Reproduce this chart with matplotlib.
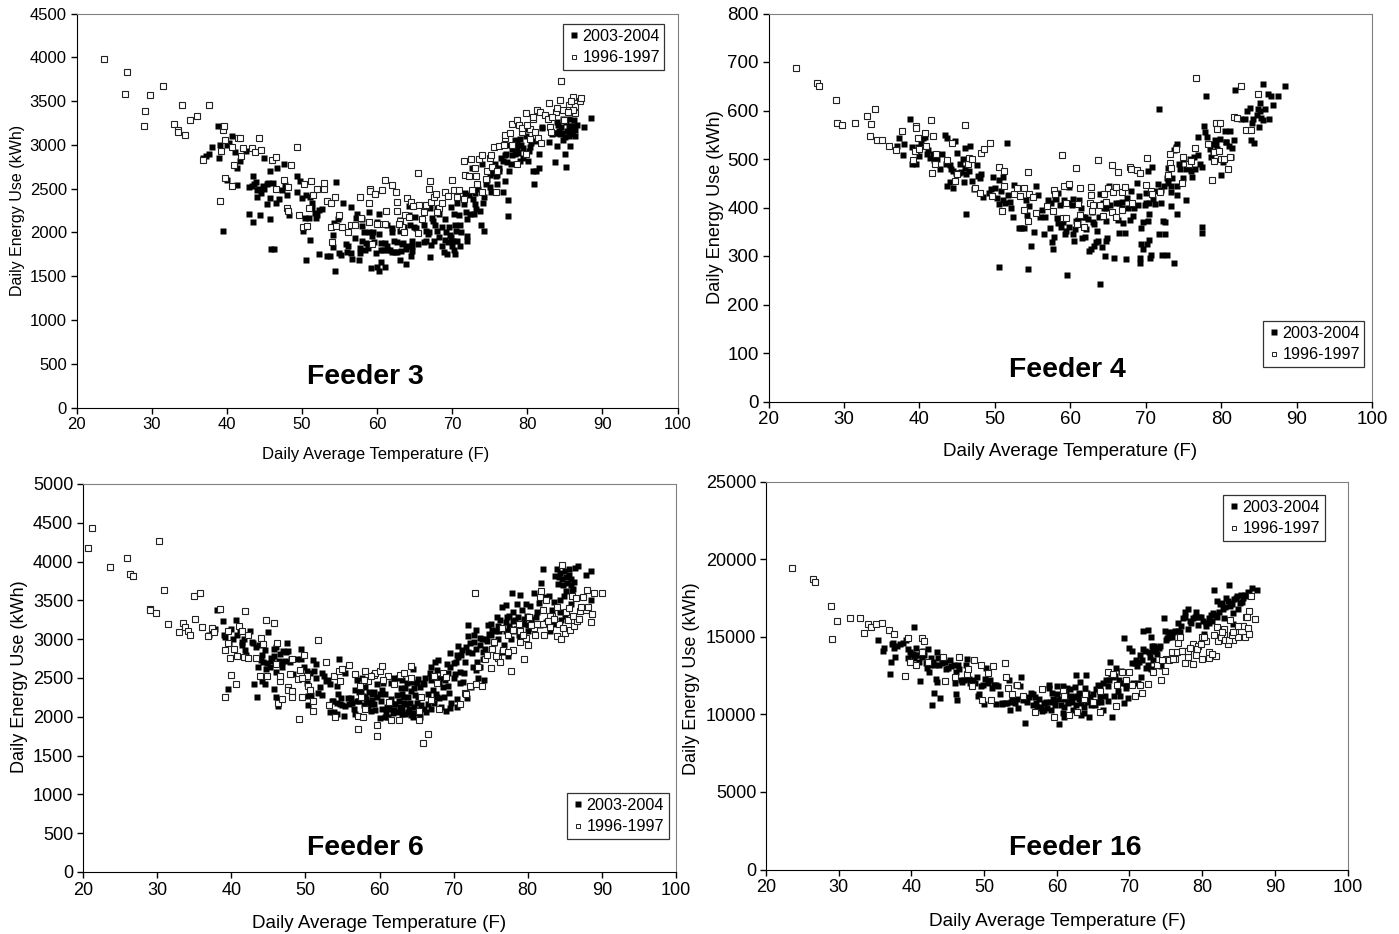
import matplotlib
matplotlib.use("Agg")
import matplotlib.pyplot as plt

plt.rcParams['font.family'] = ['Liberation Sans', 'DejaVu Sans']

W = 1399
H = 934

LABEL_NEW = "2003-2004"
LABEL_OLD = "1996-1997"
X_LABEL = "Daily Average Temperature (F)"
Y_LABEL = "Daily Energy Use (kWh)"
X_TICKS = [20, 30, 40, 50, 60, 70, 80, 90, 100]

feeder3_new = [(36.9,2850),(37.2,2870),(37.7,2900),(38,2970),(38.9,3220),(39,2850),(39.1,3000),(39.5,2020),(40,3000),(40,2600),(40.3,3020),(40.7,3100),(41.1,2920),(41.4,2740),(41.4,2540),(41.8,2820),(42.5,2930),(42.9,2520),(43,2210),(43.3,2530),(43.5,2120),(43.5,2640),(43.6,2550),(44,2400),(44,2480),(44.4,2200),(44.6,2450),(44.9,2850),(44.8,2530),(45.4,2320),(45.5,2560),(45.7,2700),(45.7,2390),(45.8,2150),(45.9,1810),(46.3,1815),(46.1,2560),(46.6,2330),(46.7,2740),(47,2380),(47.3,2480),(47.6,2780),(47.7,2540),(48,2430),(48.3,2200),(49.3,2640),(49.4,2460),(49.7,2590),(50,2390),(50.2,2020),(50.4,2170),(50.6,2430),(50.5,1680),(50.9,2160),(51.1,1910),(51.1,2400),(51.4,2340),(51.4,2280),(51.8,2220),(51.9,2170),(52.3,2260),(52.3,1750),(52.7,2270),(53.3,1730),(53.7,1730),(54.1,1830),(54.2,1970),(54.3,2110),(54.4,1560),(54.5,2580),(54.8,2150),(54.9,1770),(55.2,1740),(55.5,2340),(55.9,1870),(56.2,1850),(56.6,1760),(56.6,2290),(56.7,1700),(57.1,1940),(57.4,2210),(57.6,1690),(57.8,1770),(57.8,1820),(58,2150),(58,2070),(58,1900),(58.3,2000),(58.6,1880),(58.9,2000),(58.8,1820),(59,2230),(59.2,1590),(59.4,1960),(59.5,2000),(59.6,1890),(60,1600),(60,2120),(60.2,1560),(60.3,2210),(60.3,1980),(60.5,1880),(60.5,1660),(60.5,1800),(61,1610),(61,1880),(61.3,1850),(61.3,2080),(61.7,1800),(62,1780),(62,2050),(62,2000),(62.3,1900),(62.4,1780),(62.7,1890),(63,2140),(63,1680),(63,2020),(63.3,1870),(63.5,1880),(63.6,2060),(63.8,1640),(64,1840),(64.2,2200),(64.3,2300),(64.5,1730),(64.7,1790),(64.7,1850),(64.9,2060),(65,2180),(65.5,1870),(66.2,1890),(66.2,2090),(66.5,2020),(66.8,1980),(67,1720),(67,2280),(67.2,1860),(67.3,2160),(67.6,1900),(67.7,2090),(68,2020),(68,2280),(68.3,2210),(68.7,1850),(68.9,1780),(69,2150),(69.2,2000),(69.3,1750),(69.5,1890),(69.6,2060),(69.8,2290),(69.8,1950),(70,1850),(70.2,1800),(70.3,2210),(70.4,1750),(70.4,2090),(70.6,1900),(70.7,2340),(71,2090),(71,1850),(71.2,2010),(71.6,2320),(71.7,2450),(72,1960),(72,2150),(72,1900),(72.4,2210),(72.7,2730),(72.9,2210),(73,2450),(73,2320),(73.7,2250),(73.9,2090),(74,2780),(74.1,2340),(74.2,2400),(74.2,2020),(74.7,2600),(75.2,2460),(75.3,2680),(75.7,2780),(76,2550),(76,2660),(76.3,2700),(76.8,2460),(77,2590),(77.1,2880),(77.3,2800),(77.4,2190),(77.5,2370),(77.6,2700),(77.9,2780),(78,2880),(78.4,3050),(78.6,2960),(79,2820),(79.2,3000),(79.4,2850),(79.6,3180),(80.1,2820),(80.2,2930),(80.5,3020),(80.7,2700),(80.9,2550),(81.1,2700),(81.5,2890),(81.6,2730),(82,3200),(82.9,3030),(83.7,2800),(83.9,3260),(84,2990),(84.3,3120),(84.5,3200),(84.8,3290),(85,2890),(85.1,2750),(85,3090),(85.5,3200),(85.7,2990),(86,3120),(86.2,3280),(86.3,3100),(86.6,3230),(87.5,3200),(88.5,3310),(84,3130),(84.7,3060),(85.3,3160),(85.8,3220),(78.8,2910),(78,2950),(77.5,3000),(79,3070),(78.4,2900),(76.5,2850),(75,2650),(74.8,2700),(75.5,2720),(83.5,3130),(84.1,3230),
               (43.9,2570),(44.3,2500),(45,2490),(45.3,2550),(47.9,2520),(52,2200),(54.9,2180),(56,1780),(57.2,2170),(58.4,1800),(59.9,1770),(60.8,1800),(61.5,1800),(62.6,1780),(63.2,1790),(63.8,1810),(64.4,2080),(64.6,1900),(65.2,2050),(66.5,1900),(66.9,2010),(67.5,2130),(68.2,1950),(68.6,2060),(69.1,1910),(69.7,1970),(70.1,1900),(70.5,2020),(70.9,2200),(71.8,2230),(72.3,2430),(72.8,2380),(73.2,2270),(73.4,2500),(74.5,2550),(75,2520),(75.8,2640),(76.2,2730),(76.8,2820),(77.2,2900),(78.2,3000),(78.7,3010),(79.5,2960),(79.8,3100),(80.3,2980),(81,3040),(81.9,3190),(83.3,3120),(84.2,3160),(84.6,3130),(85.2,3260),(85.5,3100),(85.9,3150),(86.4,3170),(85.6,3300),(86,3220)]
feeder3_old = [(23.6,3980),(26.4,3585),(26.7,3830),(29,3215),(29.1,3385),(29.8,3570),(31.5,3670),(33,3240),(33.5,3170),(33.5,3145),(34.1,3450),(34.4,3110),(35.1,3285),(36,3330),(36.9,2830),(37.6,3455),(39.1,2360),(39.2,2925),(39.5,3170),(39.6,3215),(39.8,3060),(39.8,2620),(40.7,2530),(40.7,2980),(40.9,2770),(41.5,3080),(41.8,3080),(41.9,2870),(42.2,2960),(43.4,2960),(43.7,2920),(44.3,3075),(44.6,2940),(46,2830),(46.5,2860),(46.5,2500),(47.6,2600),(48,2280),(48.1,2250),(48.2,2520),(48.6,2770),(49.4,2975),(49.6,2200),(50.2,2060),(50.3,2550),(50.7,2070),(51,2280),(51.2,2590),(51.5,2430),(52,2500),(52.9,2490),(53,2560),(53.3,2360),(53.9,2060),(53.9,2340),(54,1890),(54.4,2400),(54.6,2070),(55,2200),(55.4,2060),(56.1,2000),(56.6,2090),(57.1,2090),(57.8,2400),(57.9,2160),(58.9,2120),(59,2340),(59.1,2500),(59.1,2470),(59.4,1870),(59.7,2440),(60.2,2100),(60.7,2480),(61,2600),(61.2,2240),(62,2540),(62.5,2460),(62.6,2350),(62.7,2240),(63,2130),(63.3,2060),(63.6,2010),(64,2390),(64.5,2350),(65.4,2680),(65.5,1990),(65.6,2310),(66,2150),(66.5,2310),(66.9,2490),(67,2590),(67.2,2350),(67.6,2400),(67.9,2440),(68.2,2280),(68.7,2340),(69,2460),(69.5,2410),(70,2600),(70.2,2480),(70.6,2400),(70.9,2480),(71.6,2380),(71.6,2810),(71.7,2660),(72.2,2640),(72.5,2840),(73,2740),(73.2,2640),(73.3,2550),(73.6,2840),(74,2460),(74,2880),(74.7,2700),(75,2850),(75.2,2880),(75.6,2970),(75.8,2460),(76.2,2990),(76.9,3000),(77.1,3080),(77,3110),(77.7,3130),(78,3240),(78.6,3280),(78.7,2780),(79.3,3150),(79.8,2900),(79.9,3360),(80.3,3070),(80.4,3180),(80.7,3300),(81,3150),(81.3,3400),(81.4,3080),(81.7,3370),(81.8,3020),(82.3,3340),(82.9,3480),(83,3200),(83.1,3150),(83.8,3370),(84.4,3510),(84.5,3730),(84.8,3400),(85.5,3450),(85.5,3400),(86.1,3550),(86.3,3440),(86.4,3360),(87,3500),(87.2,3540),(86.1,3400),
               (62.9,2100),(63.7,2200),(64.3,2180),(64.8,2300),(60,2100),(61,2100),(66.3,2230),(68,2230),(72.7,2480),(74.5,2610),(75.3,2750),(76,2700),(78,3000),(78.9,3230),(79.3,3190),(80,3230),(80.8,3320),(82.8,3300),(84,3420),(84.9,3280),(85.8,3500),(85.4,3370),(83.3,3320)]

feeder4_new = [(37,527),(37.3,543),(37.8,508),(38,530),(38.8,582),(39,524),(39,490),(39.5,517),(39.6,490),(40,507),(40.2,532),(40.5,543),(40.7,545),(41.2,518),(41.4,503),(41.8,510),(42.4,500),(42.8,480),(43,510),(43.4,549),(43.7,445),(43.7,543),(44,487),(44,453),(44.5,440),(44.7,537),(44.5,475),(45,513),(45.2,472),(45.5,474),(45.8,500),(45.9,453),(46,522),(46.2,387),(46,482),(46.6,475),(46.7,527),(47,455),(47.3,438),(47.6,488),(47.8,465),(48.2,470),(48.5,422),(49.5,438),(49.7,462),(50,440),(50.5,407),(50.6,457),(50.6,277),(50.8,435),(51.1,415),(51.1,462),(51.6,533),(51.7,425),(52,412),(52.2,398),(52.4,381),(52.6,447),(53.2,357),(53.9,357),(54.3,385),(54.4,273),(54.5,404),(54.8,320),(55.2,350),(55.5,444),(55.7,425),(56.2,395),(56.5,345),(56.7,380),(57,415),(57.3,357),(57.6,328),(57.7,315),(57.8,340),(58.1,418),(58.2,378),(58.4,430),(58.6,405),(58.8,360),(59.2,415),(59.3,345),(59.5,352),(59.6,260),(59.8,443),(59.9,360),(60.3,418),(60.4,345),(60.5,330),(60.6,355),(60.8,372),(61.2,415),(61.4,400),(61.5,337),(61.9,380),(62,340),(62.1,355),(62.5,310),(62.8,315),(62.9,390),(63,370),(63.2,320),(63.5,352),(63.7,330),(63.8,380),(63.9,242),(64,427),(64.2,318),(64.5,400),(64.6,300),(64.7,373),(64.8,330),(64.9,338),(65.1,445),(65.3,405),(65.8,295),(66.3,375),(66.4,348),(66.5,410),(66.8,400),(67,368),(67.2,348),(67.4,293),(67.5,420),(67.9,375),(68,434),(68.3,382),(68.5,400),(68.9,450),(69.1,423),(69.3,285),(69.3,295),(69.4,325),(69.4,358),(69.6,370),(69.7,315),(70,430),(70,410),(70.2,325),(70.3,372),(70.3,475),(70.4,333),(70.5,387),(70.6,295),(70.7,303),(70.8,484),(71.2,407),(71.6,448),(71.8,345),(71.8,603),(72,410),(72,436),(72.2,302),(72.3,373),(72.5,345),(72.6,370),(72.8,303),(73,450),(73,482),(73.3,403),(73.3,432),(73.5,460),(73.8,285),(73.8,518),(74,525),(74.1,530),(74.1,445),(74.1,387),(74.1,425),(74.4,490),(74.9,500),(75,460),(75.4,415),(75.7,485),(76,475),(76.2,462),(76.4,505),(76.9,508),(77,545),(77.4,348),(77.5,360),(77.5,484),(77.7,568),(77.9,555),(78,630),(78.1,545),(78.7,505),(79,530),(79.3,530),(79.5,520),(79.8,542),(80,467),(80.3,493),(80.5,557),(80.7,535),(81,527),(81.2,558),(81.3,505),(81.5,522),(81.7,540),(81.9,642),(82.6,583),(83.2,583),(83.4,600),(83.8,605),(84,540),(84.2,582),(84.4,534),(84.9,604),(85,565),(85.2,615),(85.3,585),(85.6,655),(85.8,603),(86.2,633),(86.3,583),(86.6,630),(86.9,612),(87.6,630),(88.5,650),
               (39.8,525),(41,510),(42,497),(43.5,490),(44.2,480),(44.9,472),(45.4,490),(46.2,470),(48,460),(49.2,430),(50.3,420),(51.4,410),(53.5,357),(54.1,415),(56,380),(57.4,410),(58,420),(58.4,368),(59,370),(59.7,410),(60.2,405),(61,375),(61.7,380),(62.3,376),(63.2,365),(63.4,328),(64.3,410),(64.8,400),(66.1,410),(66.9,412),(67.7,400),(68.2,405),(69,405),(69.9,405),(70.4,410),(71,418),(71.4,435),(72.4,445),(72.8,460),(73.4,445),(74.6,480),(75.3,480),(75.9,500),(76.5,480),(77.2,490),(78.5,520),(78.9,515),(79.2,540),(80.6,535),(84.1,575),(84.7,590),(85.1,600),(85.5,580)]
feeder4_old = [(23.6,687),(26.4,657),(26.7,650),(29,621),(29.1,574),(29.8,570),(31.5,574),(33,589),(33.5,548),(33.6,572),(34.1,604),(34.4,540),(35,540),(36,526),(36.9,518),(37.7,557),(39.2,497),(39.4,517),(39.5,568),(39.6,563),(39.8,543),(40,520),(40.7,553),(40.9,527),(41.5,580),(41.7,472),(41.8,548),(42.1,490),(42.2,510),(43.6,497),(44.3,533),(44.7,455),(46,570),(46.5,490),(46.6,502),(47.4,440),(48,430),(48.2,513),(48.6,520),(49.4,534),(49.6,423),(50.6,484),(50.9,393),(51.2,475),(51.2,445),(52.6,427),(52.9,440),(53.3,423),(53.9,395),(53.9,441),(54.4,373),(54.4,473),(54.5,427),(55.1,422),(55.5,388),(56.9,403),(57.7,393),(57.9,437),(58,428),(58.9,508),(59,378),(59.2,445),(59.4,410),(59.5,378),(59.8,448),(60.8,482),(60.9,365),(61,408),(61.3,385),(61.3,441),(61.8,360),(62.6,410),(62.7,442),(62.8,426),(62.9,392),(63.7,498),(64,405),(64.3,382),(64.5,428),(64.8,412),(65,440),(65.5,390),(65.6,488),(65.7,432),(66,442),(66.3,473),(66.9,395),(66.9,432),(67.2,442),(67.9,483),(68.1,480),(68.2,410),(68.9,478),(69.2,471),(70,447),(70.2,502),(70.7,435),(70.9,428),(71.9,432),(73,467),(73.2,492),(73.2,510),(73.4,482),(74,520),(74.8,450),(75,505),(75.8,490),(76.5,523),(76.7,668),(78.2,530),(78.8,457),(79,515),(79.3,574),(79.4,562),(79.7,517),(79.9,575),(80,500),(80.4,500),(80.9,479),(81.2,505),(81.7,587),(82.1,585),(82.6,650),(83.3,560),(84,560),(84.9,633),
               (63,405),(66,380),(47,500),(45,470),(76,495),(79,495)]

feeder6_new = [(37,3060),(37.4,3090),(37.8,3130),(38.1,3380),(38.9,3230),(39,3050),(39.1,3030),(39.5,2360),(39.7,2950),(40,3130),(40.3,3000),(40.7,3250),(41.2,3100),(41.4,2970),(41.5,2920),(41.8,2860),(42,2800),(42.5,3100),(43,2950),(43.1,2420),(43.5,2260),(43.6,2640),(43.8,2920),(44,2730),(44.1,2460),(44.5,2420),(44.6,2860),(44.8,2690),(45,3090),(45.2,2640),(45.5,2720),(45.8,2780),(45.8,2360),(46,2580),(46,2250),(46.1,2900),(46.3,2140),(46.6,2810),(46.8,2640),(47,2850),(47.3,2720),(47.5,2950),(47.7,2850),(47.9,2700),(48.3,2550),(49.4,2750),(49.4,2870),(49.8,2640),(50.2,2590),(50.2,2430),(50.3,2150),(50.4,2270),(50.8,2280),(51,2730),(51.2,2590),(51.5,2500),(51.7,2310),(52,2380),(52.2,2570),(52.3,2280),(52.8,2460),(53.3,2060),(53.7,2200),(53.9,2060),(54.2,2040),(54.3,2400),(54.4,2290),(54.5,2740),(54.7,2160),(55,2150),(55.2,2010),(55.4,2570),(55.7,2240),(56.3,2180),(56.5,2100),(56.7,2030),(56.9,2480),(57.3,2320),(57.6,2500),(57.9,2150),(58,2390),(58.2,2230),(58.4,2100),(58.6,2320),(59,2290),(59.3,2170),(59.4,2090),(59.6,2420),(60,2290),(60.1,1990),(60.3,2340),(60.4,2100),(60.5,2440),(60.7,2000),(61,2130),(61.2,2000),(61.6,2440),(61.8,2170),(62,2500),(62,2090),(62.3,2280),(62.5,2500),(62.8,2130),(63,2300),(63,2040),(63.3,2180),(63.5,2370),(63.6,2160),(63.9,2250),(64,2100),(64.2,2330),(64.3,2050),(64.5,2610),(64.5,2000),(64.8,2280),(65,2440),(65,2180),(65.3,2090),(65.5,2380),(65.6,2150),(66,2100),(66.2,2500),(66.5,2170),(66.8,2560),(67,2100),(67,2640),(67.2,2340),(67.5,2700),(67.7,2250),(67.9,2730),(68,2240),(68.5,2380),(68.9,2470),(69,2070),(69.1,2680),(69.3,2570),(69.5,2820),(69.5,2110),(70,2500),(70,2690),(70.4,2230),(70.5,2800),(70.5,2130),(70.6,2910),(70.8,2580),(71.2,2450),(71.5,2700),(71.7,2900),(71.8,2240),(72,3180),(72,3040),(72.3,2390),(72.6,2640),(72.8,3050),(73,3120),(73.1,2700),(73.5,2640),(73.6,2930),(73.8,3000),(74,2830),(74.1,2480),(74.4,3000),(74.6,3180),(75,3190),(75.5,2950),(75.9,3280),(76.1,3100),(76.5,2830),(76.5,3410),(77,3220),(77.1,3440),(77.4,2780),(77.6,3130),(77.9,3590),(78,3350),(78.5,3460),(78.7,3290),(79,3570),(79,3000),(79.3,3200),(79.7,3450),(80,3100),(80.3,3430),(80.7,3180),(80.8,3590),(81.3,3350),(81.5,3470),(81.8,3720),(82,3900),(82,3380),(82.9,3560),(83,3100),(83.6,3480),(83.7,3820),(84,3900),(84.1,3710),(84.4,3350),(84.6,3780),(84.9,3560),(85,3880),(85.3,3720),(85.5,3830),(85.8,3700),(85.8,3450),(86,3620),(86.3,3740),(86.4,3920),(86.8,3940),(87.8,3830),(88.6,3880),(88.6,3510),(85,3300),(84.5,3250),(83.5,3200),(82.5,3220),(81,3200),(80,3180),(79,3130),(78,3230),(77.5,3300),(77,3100),(76,3170),(75,3050),(74.5,2980),(73,2880),(72.5,2820),(71,2800),(70.3,2700),(69.5,2640),(68,2450),(67,2520),(66,2420),(63,2480),(59,2220),
               (40.8,3050),(41.7,3000),(42.8,2960),(43.3,2900),(44.2,2800),(44.3,2700),(44.7,2620),(45.3,2760),(45.7,2880),(46.4,2720),(46.9,2700),(47.4,2830),(48,2740),(48.8,2750),(50.6,2560),(51.4,2680),(52.5,2530),(53,2480),(53.3,2420),(53.6,2210),(54.2,2180),(54.8,2240),(55.3,2140),(55.9,2170),(56.1,2240),(56.7,2350),(57,2200),(57.3,2200),(57.5,2330),(57.8,2270),(58.1,2260),(58.3,2190),(58.7,2170),(58.9,2080),(59.2,2320),(59.7,2250),(60.2,2200),(60.7,2300),(60.9,2060),(61.3,2100),(61.5,2230),(61.8,2050),(62.1,2160),(62.4,2060),(62.6,2210),(62.9,2370),(63.1,2100),(63.2,2250),(63.4,2030),(63.7,2440),(63.8,2060),(64.1,2180),(64.2,2020),(64.4,2450),(64.6,2130),(64.7,2370),(64.9,2050),(65.2,2250),(65.2,2490),(65.4,2000),(65.9,2430),(66.3,2060),(66.6,2300),(66.9,2470),(67.3,2180),(67.6,2300),(67.8,2600),(68.2,2500),(68.3,2120),(68.7,2250),(69.2,2400),(69.4,2310),(69.7,2180),(70.2,2550),(70.6,2770),(70.9,2440),(71.1,2860),(71.4,2560),(71.9,2830),(72.2,2950),(72.7,2960),(73,2600),(73.3,2500),(73.5,3020),(73.9,2740),(74.3,2880),(74.8,3070),(75.2,3120),(75.6,3100),(76,3000),(76.3,3250),(76.8,2930),(77.2,3280),(77.5,3170),(77.8,3000),(78.2,3100),(78.3,3250),(78.8,3050),(79.2,3380),(79.5,3260),(79.9,3300),(80.5,3260),(81.1,3280),(81.7,3180),(82.2,3550),(83.3,3380),(84.2,3800),(84.3,3500),(84.7,3700),(85.1,3620),(85.2,3800),(85.6,3900),(85.9,3780),(86.1,3650),(84.4,3850)]
feeder6_old = [(20.7,4170),(21.2,4430),(23.6,3930),(25.9,4050),(26.4,3840),(26.7,3810),(29,3390),(29.1,3380),(29.8,3340),(30.2,4260),(30.9,3640),(31.5,3200),(33,3090),(33.5,3210),(33.7,3160),(34.1,3110),(34.4,3050),(35,3560),(35.1,3260),(35.8,3590),(36.1,3160),(36.9,3040),(37.4,3150),(37.7,3090),(38.5,3390),(39.1,2260),(39.2,2860),(39.5,3100),(39.6,2950),(39.8,2760),(39.9,2540),(40.4,2870),(40.6,2420),(40.8,2780),(41,3170),(41.5,3100),(41.7,2770),(41.8,3360),(42.2,3050),(42.3,2760),(43.3,2760),(43.9,2530),(44,3010),(44.3,2940),(44.7,3250),(44.8,2530),(45.8,3210),(46.1,2680),(46.2,2950),(46.3,2180),(46.6,2460),(46.6,2530),(46.8,2230),(47.6,2380),(47.7,2350),(47.9,2550),(48.2,2330),(48.2,2260),(48.2,2750),(49,2490),(49.2,1970),(49.3,2600),(49.6,2260),(49.8,2790),(50.4,2400),(50.6,2350),(51,2200),(51,2080),(51.7,2990),(52.8,2700),(53.2,2150),(53.8,2530),(54,2000),(54.5,2590),(54.7,2460),(54.9,2620),(55.9,2670),(56.7,2550),(57.1,2010),(57.1,1840),(57.4,2400),(57.8,2000),(58,2100),(58,2590),(58.5,2460),(59.3,2540),(59.4,2570),(59.6,1750),(59.7,1900),(60,2590),(60.3,2660),(61.2,2520),(61.3,2190),(61.6,1960),(62.6,1960),(62.8,2540),(63.3,2570),(64.2,2660),(64.3,2500),(65.3,1960),(65.3,2080),(65.6,2260),(65.9,1660),(66.5,1780),(66.9,2220),(67.3,2530),(68,2100),(68.5,2560),(70.8,2170),(71.5,2310),(71.7,2290),(72.2,2400),(72.9,3600),(73,2420),(73.3,2640),(73.8,2400),(74.2,2740),(74.5,2800),(75,2630),(75.2,2870),(75.5,2960),(76,2760),(76.3,2700),(76.5,3150),(77.3,3050),(77.7,2590),(78,2860),(78.5,3130),(79,2960),(79.5,2750),(80,2920),(80.2,3280),(81,3060),(81.6,3550),(81.8,3620),(82,3380),(82.2,3050),(82.5,3500),(83,3160),(83.3,3300),(84,3040),(84,3420),(84.5,3000),(84.6,3960),(85,3080),(85.1,3350),(85.7,3120),(86,3560),(86.3,3170),(86.5,3530),(86.7,3240),(87,3360),(87.4,3540),(87.8,3370),(88,3640),(88.1,3420),(88.6,3220),(88.7,3320),(89,3590),(90,3600),(84.2,3200),(85.4,3250),(83,3300),(82,3200),(80.8,3150),(79.8,3020),(79,3100),
               (78,3120),(78.8,3200),(79.4,3060),(80.4,3180),(81.3,3200),(82.7,3230),(83.5,3260),(84.8,3150),(85.5,3400),(86.1,3300),(86.9,3260),(87.2,3420),(75.7,2780),(76.7,2860),(77.3,2830),(69,2510),(67.7,2440),(62,2420),(60.5,2480),(58.8,2530),(57.9,2470),(57.5,2250),(50.2,2530),(49.6,2500)]

feeder16_new = [(33.5,15250),(35.4,14800),(36.1,14050),(36.3,14300),(37,12600),(37.2,13400),(37.3,14500),(37.6,14300),(37.8,13700),(38.9,14600),(39.2,14800),(39.5,13600),(39.6,14200),(40,13900),(40.3,13600),(40.4,15600),(40.7,14300),(41,13400),(41,13800),(41.2,12150),(41.8,13800),(42.2,13000),(42.3,14200),(42.4,12700),(42.7,13600),(42.9,10600),(43.1,11400),(43.2,13200),(43.4,12300),(43.5,12100),(43.5,14000),(43.8,13200),(43.7,13600),(44,11050),(45,13000),(45.3,13500),(45.8,13200),(46,12000),(46.1,12700),(46.2,11300),(46.3,10900),(46.4,13200),(46.8,12200),(47.3,12200),(47.5,13200),(47.7,13550),(48.1,12000),(48.5,12200),(49,12400),(49.3,11300),(49.6,11800),(50,10650),(50.1,12300),(50.2,13000),(50.5,12000),(51.3,11900),(51.7,10650),(51.9,11800),(52.2,11300),(52.4,10650),(53.2,10700),(53.4,12200),(53.5,10300),(53.9,11000),(54.4,11900),(54.7,10400),(54.9,11800),(55.1,12400),(55.6,9450),(55.9,10800),(56.5,11400),(56.7,10600),(57,11100),(57.3,10500),(57.6,11000),(58,10200),(58.2,10700),(58.6,10400),(58.9,11700),(59,11900),(59.1,10800),(59.4,11400),(59.7,10600),(60.1,11800),(60.3,9400),(60.5,11000),(60.8,11850),(61,10500),(61,9850),(61.3,11300),(61.6,10800),(61.8,11650),(62,11000),(62.3,10300),(62.5,11750),(62.6,12550),(62.8,11200),(63.2,12100),(63.4,11000),(63.4,9950),(63.7,10100),(63.9,11700),(64,12550),(64.3,11000),(64.5,9850),(64.7,10600),(65,11300),(65.5,10800),(65.7,11900),(66,11100),(66.3,12000),(66.4,10300),(66.8,12200),(67.1,10850),(67.3,13400),(67.5,12600),(67.6,9850),(67.9,11200),(68.2,13000),(68.5,12200),(68.7,11200),(69,12000),(69.2,10750),(69.3,14900),(69.5,11700),(69.8,11050),(70,14300),(70.3,14100),(70.5,12000),(70.7,13300),(70.9,13500),(71.2,12000),(71.4,13800),(71.6,12400),(71.8,14200),(71.9,15350),(72.3,13000),(72.5,15450),(72.7,14000),(72.9,12900),(73,15000),(73.1,14400),(73.3,13500),(73.5,14100),(73.8,13900),(74.2,14400),(74.7,16200),(74.9,15350),(75,14800),(75.5,15000),(76,15300),(76.3,13700),(76.7,15350),(76.7,15900),(77.4,16200),(77.7,16600),(78,16800),(78.1,15500),(78.5,15900),(79,16300),(79.1,16600),(79.4,15750),(79.8,16300),(80.2,14700),(80.3,15200),(80.6,15900),(81,16200),(81.4,16000),(81.5,16500),(81.6,18000),(82,17300),(82.3,16600),(82.7,17200),(83,16200),(83.3,17500),(83.7,18350),(83.9,17000),(84.2,15800),(84.2,16500),(84.7,17500),(85,16800),(85.5,17250),(85.9,17700),(86.3,17900),(86.8,18150),(87.6,18000),(84,17200),(84.8,17600),(85.4,17700),
                (37.5,14600),(38,14400),(38.5,14500),(39.8,14000),(40.2,13900),(40.6,13800),(41.4,13700),(41.6,14100),(42,13300),(42.6,13200),(43,13400),(44.2,13300),(44.6,13400),(44.8,12900),(45.5,13100),(46.5,12900),(47,12100),(47.9,12300),(48.8,12000),(49.2,11200),(49.8,11900),(50.8,12200),(51.1,11700),(51.6,11900),(52.5,10700),(52.9,10700),(53.7,10800),(54.2,10700),(54.6,11000),(55.3,10900),(56.2,11100),(56.8,11300),(57.1,10700),(57.4,10400),(57.8,10500),(58.3,10300),(58.5,10800),(59.2,10300),(59.5,11000),(59.8,10900),(60,11300),(60.6,10600),(60.9,10100),(61.2,11000),(61.4,11700),(61.5,10700),(61.9,11200),(62.1,10800),(62.4,11100),(62.7,10600),(63,11000),(63.1,11400),(63.3,10700),(63.6,11300),(63.8,10500),(64.1,11400),(64.2,10800),(64.4,11100),(64.6,11000),(65.2,10600),(65.4,11600),(65.9,11800),(66.1,10800),(66.6,11200),(67,11800),(67.2,12200),(67.7,12400),(68,12500),(68.4,11500),(68.9,12800),(69.4,12000),(70.1,11900),(70.4,13300),(71,13100),(71.3,13400),(71.7,13500),(72.1,14100),(72.6,13200),(72.8,13700),(73.2,14100),(73.4,14400),(73.7,14300),(74,14300),(74.3,13100),(75.2,14900),(75.3,15300),(75.8,15000),(76.2,15350),(76.9,15300),(77.1,15700),(77.6,16300),(78.3,16000),(78.8,16200),(79.6,16300),(80.1,16000),(80.5,15700),(80.9,15900),(81.2,16400),(81.9,16400),(82.1,16300),(82.5,17100),(82.9,16800),(83.1,16900),(83.5,17300),(84.1,17100),(84.4,17400),(85.2,17200),(85.6,17500),(86,17600),(86.5,17800)]
feeder16_old = [(23.6,19450),(26.4,18700),(26.7,18500),(29,17000),(29.1,14850),(29.8,16000),(31.5,16200),(33,16200),(33.5,15250),(34.1,15800),(34.4,15600),(35.1,15850),(36,15900),(36.9,15450),(37.6,15200),(39.1,12500),(39.5,14900),(39.8,13400),(40.7,13200),(41.5,14000),(41.5,14900),(41.8,14700),(42.3,13400),(44.3,13700),(44.6,12150),(46,12400),(46.5,13700),(47.6,12600),(47.8,12900),(48.3,11800),(48.6,13500),(49.6,13200),(49.7,10900),(50.5,12650),(51,10950),(51.2,13100),(52.9,13300),(53,12400),(53.3,11700),(53.9,11300),(54.5,11900),(55.4,11200),(57,10150),(58,11600),(59.6,9800),(60.9,11500),(61.7,9950),(62.8,10150),(63.7,11000),(65,10800),(65.9,10150),(65.9,11500),(67,12700),(67.7,12600),(68.2,10550),(68.3,11900),(69,12700),(70,12700),(70.7,11200),(71.4,11900),(71.7,11400),(72.5,11950),(73.2,12700),(73.8,13200),(74.3,12200),(74.9,12800),(75,13550),(75.8,14000),(76.3,13550),(76.7,14600),(77,14950),(77.6,14050),(77.7,13300),(78.1,13700),(78.7,14500),(78.8,13250),(79.2,13800),(80,13550),(80.5,14700),(80.9,13600),(81,14000),(81.7,15100),(81.9,13750),(82.2,14700),(83,15100),(83.5,14500),(83.9,16100),(84.2,14800),(84.5,15300),(85,15000),(85.6,15700),(85.9,14950),(86.3,15550),(86.4,16650),(86.4,15150),(86.7,17600),(87.3,16150),(86,16300),(80,15000),(79.5,14400),(82,15600),(83,15500),
                (74.5,13500),(75.5,13500),(76,13550),(76.5,14000),(77.3,14100),(78,14100),(78.4,14300),(79.3,14200),(79.8,14500),(80.3,15000),(81.3,13900),(82.6,15000),(82.8,15300),(83.2,14800),(83.7,14800),(84.1,15100),(84.3,15300),(85,15700),(86.2,16300),(63.9,11300),(61,11200),(70.4,11900),(69.5,12200)]


# pixel helpers, the layout was measured on the reference
def fx(x):
    return x / W

def fy(y):
    return 1 - y / H


def drawPanel(fig, box, new, old, ymax, ystep, title, title_xy, xlabel_xy, xlabel_size, ylabel_xy, ylabel_size, tick_size, legend_box):
    left, top, right, bottom = box
    ax = fig.add_axes([fx(left), fy(bottom), (right - left) / W, (bottom - top) / H])

    ax.plot(*zip(*new), ls='none', marker='s', ms=4.8, mfc='black', mec='none', label=LABEL_NEW, clip_on=False)
    ax.plot(*zip(*old), ls='none', marker='s', ms=3.9, mfc='white', mec='#222222', mew=0.8, label=LABEL_OLD, clip_on=False)

    ax.set_xlim(20, 100)
    ax.set_ylim(0, ymax)
    ax.set_xticks(X_TICKS)
    ax.set_yticks(range(0, ymax + 1, ystep))
    ax.tick_params(labelsize=tick_size, length=4, width=1, pad=3, color='black')
    for side in ['top', 'right']:
        ax.spines[side].set_color('#808080')
    for side in ['left', 'bottom']:
        ax.spines[side].set_color('black')

    # legend markers are a bit smaller than the data markers
    handles = [plt.Line2D([], [], ls='none', marker='s', ms=4.0, mfc='black', mec='none'),
               plt.Line2D([], [], ls='none', marker='s', ms=3.4, mfc='white', mec='#222222', mew=0.7)]
    lx0, ly0, lx1, ly1 = legend_box
    leg = fig.legend(handles, [LABEL_NEW, LABEL_OLD], loc='lower left',
                     bbox_to_anchor=(fx(lx0), fy(ly1), (lx1 - lx0) / W, (ly1 - ly0) / H),
                     mode='expand', fontsize=11.6, fancybox=False, framealpha=1, edgecolor='#333333',
                     borderpad=0.3, labelspacing=0.4, handletextpad=0.1, handlelength=0.8,
                     borderaxespad=0)
    leg.get_frame().set_linewidth(0.9)

    fig.text(fx(title_xy[0]), fy(title_xy[1]), title, fontsize=20.4, fontweight='bold', ha='center', va='center')
    fig.text(fx(xlabel_xy[0]), fy(xlabel_xy[1]), X_LABEL, fontsize=xlabel_size, ha='center', va='center')
    fig.text(fx(ylabel_xy[0]), fy(ylabel_xy[1]), Y_LABEL, fontsize=ylabel_size, rotation=90, ha='center', va='center')


def main():
    fig = plt.figure(figsize=(W / 100, H / 100), dpi=100)

    drawPanel(fig, (76.5, 13.5, 677.5, 407.5), feeder3_new, feeder3_old, 4500, 500, "Feeder 3",
              (365, 377), (376, 455), 12.0, (18, 210), 11.5, 12.0, (563, 25, 664, 70))
    drawPanel(fig, (768.5, 13.5, 1372, 401.5), feeder4_new, feeder4_old, 800, 100, "Feeder 4",
              (1067, 370), (1070, 452), 13.5, (715, 207), 13.1, 13.5, (1263, 322, 1364, 367))
    drawPanel(fig, (83, 484, 676, 872), feeder6_new, feeder6_old, 5000, 500, "Feeder 6",
              (365, 848), (379, 923), 13.5, (20, 677), 13.0, 13.0, (567, 794, 669, 839))
    drawPanel(fig, (766, 481.5, 1347.5, 869.5), feeder16_new, feeder16_old, 25000, 5000, "Feeder 16",
              (1075, 848), (1057, 921), 13.7, (691, 679), 13.0, 13.0, (1223, 496, 1325, 541))

    fig.savefig("out.png", dpi=100)
    plt.close(fig)


main()
